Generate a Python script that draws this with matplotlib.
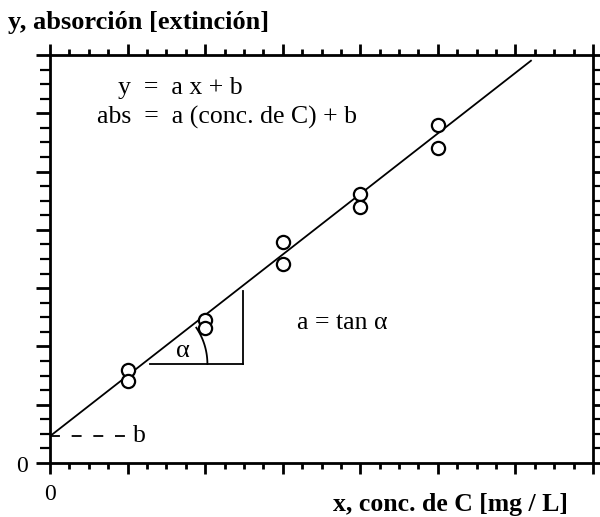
import numpy as np
import matplotlib.pyplot as plt
from matplotlib.ticker import MultipleLocator

# data
conc = [1, 1, 2, 2, 3, 3, 4, 4, 5, 5]
absorb = [1.60, 1.41, 2.45, 2.31, 3.79, 3.41, 4.61, 4.39, 5.80, 5.40]
b = 0.46
a = 1.039
x_end = 6.2

plt.rcParams['font.family'] = ['Liberation Serif', 'DejaVu Serif']

fig = plt.figure(figsize=(6, 5.17), dpi=100)
ax = fig.add_axes([50/600, 54/517, 543/600, 408/517])
ax.set_xlim(0, 7)
ax.set_ylim(0, 7)

# fitted line and points
xl = np.array([0, x_end])
ax.plot(xl, a*xl + b, color='black', lw=1.3)
ax.plot(conc, absorb, 'o', mfc='white', mec='black', ms=9.5, mew=1.6)

# intercept b
ax.plot([0, 0.97], [b, b], color='black', lw=1.3, dashes=(5.5, 6.5))
ax.text(1.07, b, 'b', fontsize=18.5, va='center', ha='left')

# slope triangle
xv = (1.698 - b)/a
ax.plot([1.29, 2.49], [1.698, 1.698], color='black', lw=1.3)
ax.plot([2.49, 2.49], [1.698, 2.95], color='black', lw=1.3)
r = 65.0
t = np.radians(np.linspace(0, 34, 40))
ax.plot(xv + r*np.cos(t)/77.6, 1.698 + r*np.sin(t)/58.3, color='black', lw=1.3)
ax.text(1.71, 1.93, 'α', fontsize=19, ha='center', va='center')
ax.text(3.18, 2.40, 'a = tan α', fontsize=18.5, ha='left', va='center')

# equations
ax.text(0.88, 6.43, 'y  =  a x + b', fontsize=18.5, ha='left', va='center')
ax.text(0.61, 5.93, 'abs  =  a (conc. de C) + b', fontsize=18.5, ha='left', va='center')

# axes and ticks
for s in ax.spines.values():
    s.set_linewidth(2)
ax.xaxis.set_major_locator(MultipleLocator(1))
ax.xaxis.set_minor_locator(MultipleLocator(0.25))
ax.yaxis.set_major_locator(MultipleLocator(1))
ax.yaxis.set_minor_locator(MultipleLocator(0.25))
ax.tick_params(axis='both', which='both', direction='out', top=True, right=True,
               labelleft=False, labelbottom=False, color='black')
ax.tick_params(axis='x', which='major', length=8, width=2)
ax.tick_params(axis='x', which='minor', length=4, width=2)
ax.tick_params(axis='y', which='major', length=10, width=2)
ax.tick_params(axis='y', which='minor', length=7, width=1.6)

fig.text(22/600, 1 - 466/517, '0', fontsize=17, ha='center', va='center')
fig.text(50/600, 1 - 494/517, '0', fontsize=17, ha='center', va='center')
fig.text(8/600, 1 - 22/517, 'y, absorción [extinción]', fontsize=19,
         fontweight='bold', ha='left', va='center')
fig.text(568/600, 1 - 505/517, 'x, conc. de C [mg / L]', fontsize=18.5,
         fontweight='bold', ha='right', va='center')

fig.savefig('out.png', dpi=100)
